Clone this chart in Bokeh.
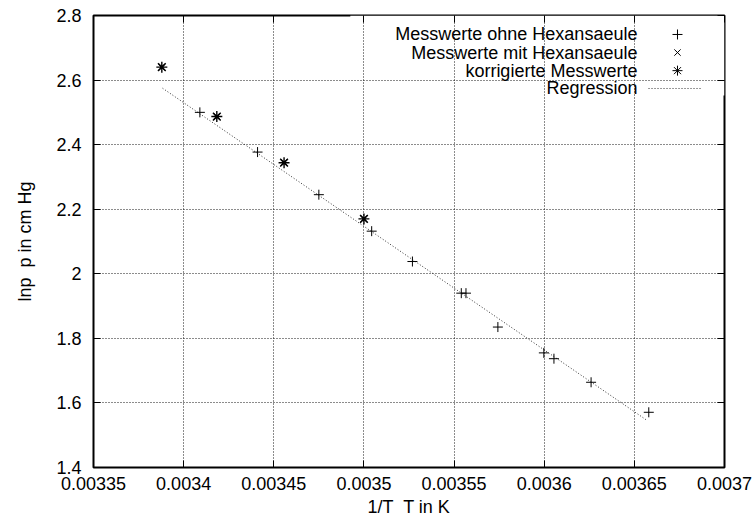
from bokeh.plotting import figure
from bokeh.models import Range1d, LinearAxis, FixedTicker, ColumnDataSource, CustomJSTickFormatter
from bokeh.core.properties import value
from bokeh.embed import file_html
from bokeh.resources import INLINE

# ---- data ----
x_ohne = [0.003409, 0.003441, 0.003475, 0.0035043, 0.0035269, 0.003554,
          0.0035566, 0.0035743, 0.0035998, 0.0036054, 0.003626, 0.003658]
y_ohne = [2.500, 2.377, 2.245, 2.132, 2.038, 1.940,
          1.940, 1.835, 1.755, 1.737, 1.664, 1.571]
x_mit = [0.0033879, 0.0034184, 0.0034557, 0.0035000]
y_mit = [2.640, 2.487, 2.344, 2.170]
x_korr = [0.0033879, 0.0034184, 0.0034557, 0.0035000]
y_korr = [2.640, 2.487, 2.344, 2.170]
reg_x = [0.0033883, 0.0036571]
reg_y = [2.5748, 1.5456]

x_ticks = [0.00335, 0.0034, 0.00345, 0.0035, 0.00355, 0.0036, 0.00365, 0.0037]
x_tick_labels = ["0.00335", "0.0034", "0.00345", "0.0035", "0.00355", "0.0036", "0.00365", "0.0037"]
y_ticks = [1.4, 1.6, 1.8, 2.0, 2.2, 2.4, 2.6, 2.8]
y_tick_labels = ["1.4", "1.6", "1.8", "2", "2.2", "2.4", "2.6", "2.8"]

legend_labels = ["Messwerte ohne Hexansaeule", "Messwerte mit Hexansaeule",
                 "korrigierte Messwerte", "Regression"]

FONT = "Liberation Sans"
FS = "18px"

p = figure(frame_width=631, frame_height=452,
           x_range=Range1d(0.00335, 0.0037), y_range=Range1d(1.4, 2.8),
           output_backend="svg", toolbar_location=None,
           min_border_left=93, min_border_right=29, min_border_top=15, min_border_bottom=55,
           x_axis_label="1/T\u00a0 T in K", y_axis_label="lnp\u00a0 p in cm Hg")
p.extra_x_ranges = {"frac": Range1d(0, 1)}
p.extra_y_ranges = {"frac": Range1d(0, 1)}

p.outline_line_color = "black"
p.outline_line_width = 2
p.outline_line_alpha = 1
p.background_fill_color = "white"
p.border_fill_color = "white"

for ax, ticks, labels in ((p.xaxis[0], x_ticks, x_tick_labels), (p.yaxis[0], y_ticks, y_tick_labels)):
    ax.ticker = FixedTicker(ticks=ticks)
    ax.major_label_overrides = {t: l for t, l in zip(ticks, labels)}
    ax.major_tick_in = 7
    ax.major_tick_out = 0
    ax.minor_tick_in = 0
    ax.minor_tick_out = 0
    ax.axis_line_color = None
    ax.major_tick_line_color = "black"
    ax.major_label_text_font = FONT
    ax.major_label_text_font_size = FS
    ax.major_label_text_color = "black"
    ax.axis_label_text_font = FONT
    ax.axis_label_text_font_size = FS
    ax.axis_label_text_font_style = "normal"
    ax.axis_label_text_color = "black"

p.xaxis[0].major_label_standoff = 9
p.xaxis[0].axis_label_standoff = 4
p.yaxis[0].major_label_standoff = 12
p.yaxis[0].axis_label_standoff = 18

for loc, ticks in (("right", y_ticks), ("above", x_ticks)):
    ax = LinearAxis(ticker=FixedTicker(ticks=ticks),
                    formatter=CustomJSTickFormatter(code="return ''"),
                    major_tick_in=7, major_tick_out=0, minor_tick_in=0, minor_tick_out=0,
                    axis_line_color=None, major_tick_line_color="black",
                    major_label_standoff=0)
    p.add_layout(ax, loc)

for g, ticks in ((p.xgrid[0], x_ticks), (p.ygrid[0], y_ticks)):
    g.ticker = FixedTicker(ticks=ticks)
    g.grid_line_color = "black"
    g.grid_line_alpha = 0.9
    g.grid_line_dash = "1 2"
    g.grid_line_width = 1

# white key area blanking the grid (gnuplot style)
p.quad(left=[0.407], right=[1.0], bottom=[0.823], top=[1.0],
       x_range_name="frac", y_range_name="frac",
       fill_color="white", line_color=None, level="underlay")

# data
p.line(reg_x, reg_y, line_color="#333333", line_width=1, line_dash="1 2")
p.scatter(x_ohne, y_ohne, marker="cross", size=10, line_color="black", line_width=1)
p.scatter(x_mit, y_mit, marker="x", size=9, line_color="black", line_width=1.2)
p.scatter(x_korr, y_korr, marker="asterisk", size=11, line_color="black", line_width=1.4)

# key
key_y = [0.958, 0.918, 0.878, 0.8385]
src = ColumnDataSource(dict(x=[0.862] * 4, y=key_y, t=legend_labels))
p.text(x="x", y="y", text="t", source=src, x_range_name="frac", y_range_name="frac",
       text_align="right", text_baseline="middle", text_font=value(FONT),
       text_font_size=value(FS), text_color="black")
p.scatter([0.9255], [key_y[0]], marker="cross", size=10, line_color="black",
          x_range_name="frac", y_range_name="frac")
p.scatter([0.9255], [key_y[1]], marker="x", size=9, line_color="black",
          x_range_name="frac", y_range_name="frac")
p.scatter([0.9255], [key_y[2]], marker="asterisk", size=10, line_color="black",
          x_range_name="frac", y_range_name="frac")
p.line([0.8796, 0.9635], [key_y[3], key_y[3]], line_color="#333333", line_dash="1 2",
       x_range_name="frac", y_range_name="frac")

open("out.html", "w").write(file_html(p, INLINE))
